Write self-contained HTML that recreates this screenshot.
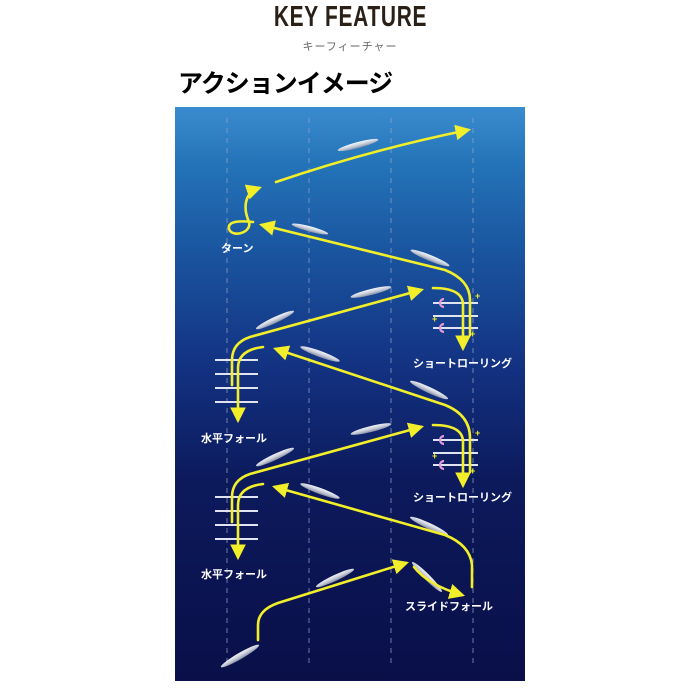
<!DOCTYPE html>
<html><head><meta charset="utf-8"><style>
html,body{margin:0;padding:0;background:#fff;}
body{width:700px;height:700px;position:relative;overflow:hidden;font-family:"Liberation Sans","Noto Sans CJK JP",sans-serif;}
.t1{position:absolute;left:0;width:700px;top:1px;text-align:center;font-size:29px;font-weight:bold;color:#2a2018;letter-spacing:1px;}
.t1 span{display:inline-block;transform:scaleX(0.72);}
.t2{position:absolute;left:0;width:700px;top:38px;text-align:center;font-size:11px;color:#666;letter-spacing:1px;}
.t3{position:absolute;left:178px;top:64px;font-size:25px;font-weight:bold;color:#000;letter-spacing:-1px;}
svg{position:absolute;left:0;top:0;}
</style></head><body>
<div class="t1"><span>KEY FEATURE</span></div>
<div class="t2">キーフィーチャー</div>
<div class="t3">アクションイメージ</div>
<svg width="700" height="700" viewBox="0 0 700 700">
<defs>
<linearGradient id="bg" x1="0" y1="0" x2="0" y2="1">
<stop offset="0" stop-color="#3a8ccf"/>
<stop offset="0.1" stop-color="#2473b8"/>
<stop offset="0.25" stop-color="#1a55a0"/>
<stop offset="0.45" stop-color="#133282"/>
<stop offset="0.65" stop-color="#0c1a5c"/>
<stop offset="1" stop-color="#0a0f48"/>
</linearGradient>
<linearGradient id="lg" x1="0" y1="0" x2="0" y2="1">
<stop offset="0" stop-color="#ffffff"/>
<stop offset="0.5" stop-color="#d4d8e2"/>
<stop offset="1" stop-color="#8d93a6"/>
</linearGradient>
<marker id="ah" viewBox="0 0 10 10" refX="8" refY="5" markerWidth="6" markerHeight="6" orient="auto" markerUnits="strokeWidth">
<path d="M0,0 L10,5 L0,10 z" fill="#f2ef2a"/>
</marker>
<g id="lure"><ellipse cx="0" cy="0" rx="21" ry="3" fill="url(#lg)"/></g>
</defs>
<rect x="175" y="107" width="350" height="574" fill="url(#bg)"/>
<g stroke="#9aa6c8" stroke-width="1" stroke-dasharray="5,5" opacity="0.7">
<line x1="227" y1="118" x2="227" y2="665"/><line x1="309" y1="118" x2="309" y2="665"/>
<line x1="391" y1="118" x2="391" y2="665"/><line x1="473" y1="118" x2="473" y2="665"/>
</g>
<g opacity="0.95">
<use href="#lure" transform="translate(358,145) rotate(-15)"/>
<use href="#lure" transform="translate(310,229) rotate(15) scale(0.9)"/>
<use href="#lure" transform="translate(430,258) rotate(22)"/>
<use href="#lure" transform="translate(371,292) rotate(-14)"/>
<use href="#lure" transform="translate(275,320) rotate(-25)"/>
<use href="#lure" transform="translate(320,354) rotate(20)"/>
<use href="#lure" transform="translate(429,390) rotate(25)"/>
<use href="#lure" transform="translate(371,429) rotate(-14)"/>
<use href="#lure" transform="translate(275,457) rotate(-25)"/>
<use href="#lure" transform="translate(320,491) rotate(20)"/>
<use href="#lure" transform="translate(429,526) rotate(25)"/>
<use href="#lure" transform="translate(335,578) rotate(-25)"/>
<use href="#lure" transform="translate(427,577) rotate(45)"/>
<use href="#lure" transform="translate(240,656) rotate(-30) scale(1.05)"/>
</g>
<g stroke="#e0e4f0" stroke-width="2">
<line x1="433" y1="303" x2="478" y2="303"/><line x1="433" y1="316" x2="478" y2="316"/><line x1="433" y1="328" x2="478" y2="328"/>
<line x1="433" y1="440" x2="478" y2="440"/><line x1="433" y1="453" x2="478" y2="453"/><line x1="433" y1="465" x2="478" y2="465"/>
<line x1="215" y1="360" x2="258" y2="360"/><line x1="215" y1="374" x2="258" y2="374"/><line x1="215" y1="388" x2="258" y2="388"/><line x1="215" y1="402" x2="258" y2="402"/>
<line x1="215" y1="497" x2="258" y2="497"/><line x1="215" y1="511" x2="258" y2="511"/><line x1="215" y1="525" x2="258" y2="525"/><line x1="215" y1="539" x2="258" y2="539"/>
</g>
<g fill="none" stroke="#e89ad8" stroke-width="2.2">
<path d="M444,299 A4,4 0 1 0 444,307"/><path d="M444,324 A4,4 0 1 0 444,332"/>
<path d="M444,436 A4,4 0 1 0 444,444"/><path d="M444,461 A4,4 0 1 0 444,469"/>
</g>
<g fill="#f2ef2a" font-size="9" font-weight="bold">
<text x="475" y="299">+</text><text x="432" y="322">+</text><text x="470" y="337">+</text>
<text x="475" y="436">+</text><text x="432" y="459">+</text><text x="470" y="474">+</text>
</g>
<g fill="none" stroke="#f2ef2a" stroke-width="2.6" stroke-linecap="round">
<path d="M276,182 Q370,150 468,130" marker-end="url(#ah)"/>
<path d="M249,222 C243,208 244,193 259,188" marker-end="url(#ah)"/>
<path d="M249,222 C252,233 232,238 229,229 C227,220 243,221 253,222"/>
<path d="M470,335 L470,300 Q470,280 445,270 L262,225" marker-end="url(#ah)"/>
<path d="M433,288 Q463,288 463,305 L463,348" marker-end="url(#ah)"/>
<path d="M232,385 L232,360 Q232,343 250,337 L421,290" marker-end="url(#ah)"/>
<path d="M263,347 Q238,350 238,368 L238,420" marker-end="url(#ah)"/>
<path d="M470,472 L470,438 Q470,415 445,405 L276,349" marker-end="url(#ah)"/>
<path d="M433,425 Q463,425 463,442 L463,485" marker-end="url(#ah)"/>
<path d="M232,522 L232,497 Q232,480 250,474 L421,427" marker-end="url(#ah)"/>
<path d="M263,484 Q238,487 238,505 L238,557" marker-end="url(#ah)"/>
<path d="M472,587 L472,565 Q470,545 445,535 L275,487" marker-end="url(#ah)"/>
<path d="M258,640 L258,625 Q258,610 278,603 L406,563" marker-end="url(#ah)"/>
<path d="M414,567 Q428,585 462,595" marker-end="url(#ah)"/>
</g>
<g fill="#fff" font-size="11" font-weight="bold" font-family="Liberation Sans,Noto Sans CJK JP,sans-serif">
<text x="221" y="252">ターン</text>
<text x="413" y="367">ショートローリング</text>
<text x="413" y="501">ショートローリング</text>
<text x="201" y="442">水平フォール</text>
<text x="201" y="578">水平フォール</text>
<text x="405" y="610">スライドフォール</text>
</g>
</svg>
</body></html>
